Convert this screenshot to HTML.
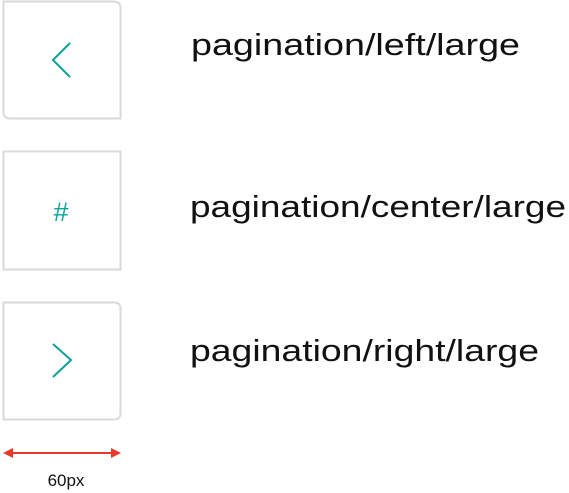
<!DOCTYPE html>
<html><head><style>
html,body{margin:0;padding:0;background:#fff;width:569px;height:493px;overflow:hidden}
</style></head><body>
<svg width="569" height="493" xmlns="http://www.w3.org/2000/svg" style="display:block">
<path d="M3.5 1.5 H114 Q120.5 1.5 120.5 8 V118.5 H10 Q3.5 118.5 3.5 112 Z" fill="#fff" stroke="#d9d9d9" stroke-width="2"/>
<rect x="3.5" y="151.5" width="117" height="118" fill="#fff" stroke="#d9d9d9" stroke-width="2"/>
<path d="M3.5 302.5 H114 Q120.5 302.5 120.5 309 V413 Q120.5 419.5 114 419.5 H3.5 Z" fill="#fff" stroke="#d9d9d9" stroke-width="2"/>
<polyline points="70,43 53,60 70,77" fill="none" stroke="#0aa29a" stroke-width="2"/>
<polyline points="53,344 71,360 53,377" fill="none" stroke="#0aa29a" stroke-width="2"/>
<text x="61" y="221" font-family="Liberation Sans, sans-serif" font-size="27" fill="#0aa29a" text-anchor="middle">#</text>
<g font-family="Liberation Sans, sans-serif" font-size="31" fill="#111">
<text x="191" y="55" textLength="329" lengthAdjust="spacingAndGlyphs">pagination/left/large</text>
<text x="190" y="217" textLength="376" lengthAdjust="spacingAndGlyphs">pagination/center/large</text>
<text x="190" y="361" textLength="349" lengthAdjust="spacingAndGlyphs">pagination/right/large</text>
</g>
<line x1="10" y1="453" x2="114" y2="453" stroke="#e8392d" stroke-width="2"/>
<polygon points="3,453 13,448 13,458" fill="#e8392d"/>
<polygon points="121,453 111,448 111,458" fill="#e8392d"/>
<text x="66" y="486" font-family="Liberation Sans, sans-serif" font-size="17" fill="#111" text-anchor="middle">60px</text>
</svg>
</body></html>
